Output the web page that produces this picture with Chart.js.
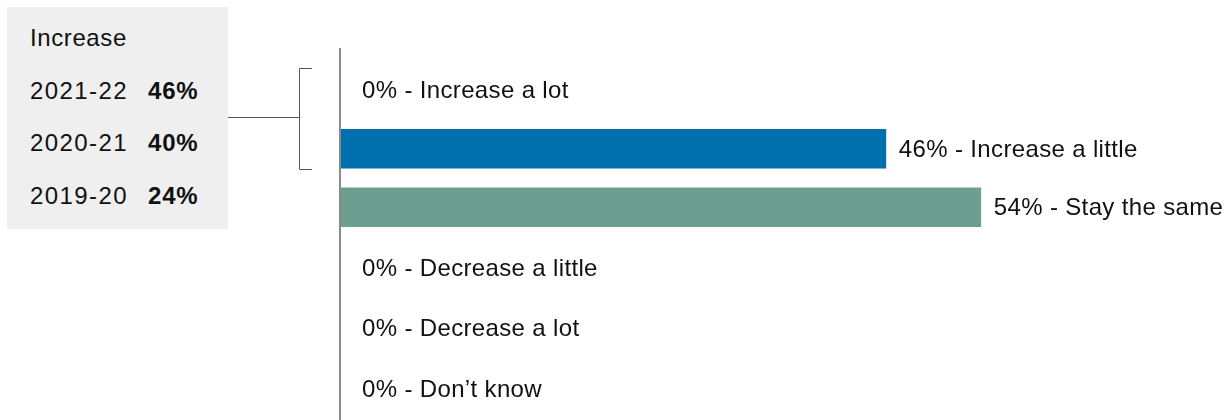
<!DOCTYPE html>
<html>
<head>
<meta charset="utf-8">
<script src="https://cdn.jsdelivr.net/npm/chart.js@4"></script>
<style>
  body { margin: 0; background: #fff; font-family: "Liberation Sans", Arial, sans-serif; }
  .wrap { position: relative; width: 1230px; height: 420px; }
  #chart { position: absolute; left: 0; top: 0; }
  .panel { position: absolute; left: 7px; top: 7px; width: 221px; height: 222px; background: #efefef; color: #111; font-size: 24px; letter-spacing: 0.6px; }
  .panel div { position: absolute; left: 23px; line-height: 28px; white-space: nowrap; }
  .panel .yr { letter-spacing: 1.4px; }
  .panel b { position: absolute; left: 118px; letter-spacing: 0.8px; }
</style>
</head>
<body>
<div class="wrap">
  <canvas id="chart" width="1230" height="420"></canvas>
  <div class="panel"></div>
</div>
<script>
const categories = [
  "Increase a lot",
  "Increase a little",
  "Stay the same",
  "Decrease a little",
  "Decrease a lot",
  "Don\u2019t know",
];
const values = [0, 46, 54, 0, 0, 0];
const barColors = ["#006fad", "#006fad", "#6c9f8f", "#6c9f8f", "#6c9f8f", "#6c9f8f"];

const panelTitle = "Increase";
const increaseYears = ["2021-22", "2020-21", "2019-20"];
const increaseValues = [46, 40, 24];

// LEFT PANEL
const panel = document.querySelector('.panel');
const rowTops = [17, 70, 122, 175];
panel.innerHTML = `<div style="top:${rowTops[0]}px">${panelTitle}</div>` +
  increaseYears.map((y, i) =>
    `<div style="top:${rowTops[i + 1]}px"><span class="yr">${y}</span><b>${increaseValues[i]}%</b></div>`
  ).join('');

// AXIS LINE, BRACKET AND LABELS
const extras = {
  id: 'extras',
  afterDatasetsDraw(chart) {
    const { ctx, chartArea, scales: { x, y } } = chart;
    const x0 = x.getPixelForValue(0);
    ctx.save();
    ctx.strokeStyle = '#8a8a8a';
    ctx.lineWidth = 2;
    ctx.beginPath();
    ctx.moveTo(x0, chartArea.top - 13);
    ctx.lineTo(x0, 420);
    ctx.stroke();

    // bracket joining the panel to the two "increase" rows
    const top = Math.round(y.getPixelForValue(0) - 22) + 0.5;
    const bot = Math.round(y.getPixelForValue(1) + 20) + 0.5;
    ctx.strokeStyle = '#555';
    ctx.lineWidth = 1;
    ctx.beginPath();
    ctx.moveTo(312, top);
    ctx.lineTo(299.5, top);
    ctx.lineTo(299.5, bot);
    ctx.lineTo(312, bot);
    ctx.moveTo(228, 117.5);
    ctx.lineTo(299.5, 117.5);
    ctx.stroke();

    ctx.fillStyle = '#111';
    ctx.font = '24px "Liberation Sans", Arial, sans-serif';
    ctx.letterSpacing = '0.35px';
    ctx.textBaseline = 'middle';
    values.forEach((v, i) => {
      const px = x.getPixelForValue(v) + (v ? 13 : 22);
      const nudge = i > 2 ? (i - 2) * 2 : 0;
      ctx.fillText(`${v}% - ${categories[i]}`, px, y.getPixelForValue(i) + 1.5 + nudge);
    });
    ctx.restore();
  }
};

new Chart(document.querySelector('#chart'), {
  type: 'bar',
  data: {
    labels: categories,
    datasets: [{
      data: values,
      backgroundColor: barColors,
      barThickness: 39,
    }],
  },
  options: {
    indexAxis: 'y',
    responsive: false,
    animation: false,
    layout: { padding: { left: 340, top: 61, bottom: 8, right: 0 } },
    scales: {
      x: { display: false, min: 0, max: 75 },
      y: { display: false },
    },
    plugins: { legend: { display: false }, tooltip: { enabled: false } },
  },
  plugins: [extras],
});
</script>
</body>
</html>
